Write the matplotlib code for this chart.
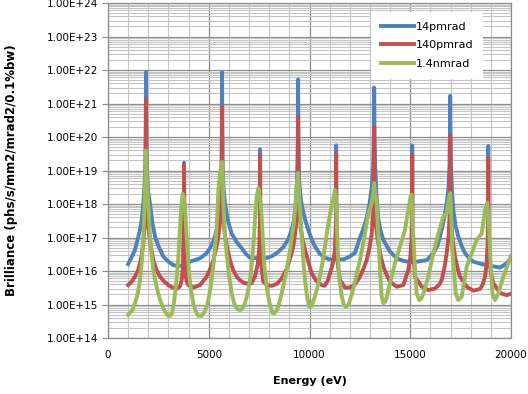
import matplotlib
matplotlib.use("Agg")
import matplotlib.pyplot as plt
from matplotlib.ticker import FixedLocator, LogLocator, FuncFormatter, NullFormatter

# Values (energy in eV, brilliance)
e_14p = [1000, 1100, 1200, 1340, 1450, 1588, 1680, 1752, 1810, 1850, 1872, 1887, 1902, 1925, 1990, 2084,
         2200, 2333, 2500, 2745, 3000, 3242, 3500, 3740, 3764, 3774, 3784, 3810, 4070, 4566, 4850, 5062,
         5250, 5395, 5480, 5545, 5600, 5635, 5648, 5661, 5675, 5690, 5730, 5806, 5950, 6139, 6400, 6635,
         6850, 7047, 7295, 7535, 7543, 7548, 7553, 7565, 7800, 8100, 8400, 8700, 8950, 9130, 9250, 9330,
         9390, 9420, 9435, 9450, 9480, 9540, 9620, 9777, 9950, 10100, 10273, 10500, 10769, 11017, 11300,
         11315, 11322, 11329, 11345, 11678, 11950, 12258, 12506, 12700, 12840, 12980, 13090, 13160, 13192,
         13209, 13226, 13260, 13330, 13416, 13530, 13664, 13995, 14327, 14655, 14900, 15085, 15091, 15096,
         15101, 15110, 15318, 15815, 16145, 16350, 16476, 16620, 16725, 16830, 16900, 16945, 16968, 16983,
         16998, 17025, 17080, 17137, 17250, 17385, 17550, 17717, 17900, 18130, 18546, 18860, 18865, 18870,
         18875, 18885, 19206, 19454, 19786, 20000]
b_14p = [1.6e16, 2.1e16, 2.8e16, 4.3e16, 7.9e16, 1.7e17, 3.5e17, 1.0e18, 3.2e18, 1.3e19, 1.6e20, 8.7e21,
         1.6e20, 1.3e19, 2.5e18, 1.0e18, 2.8e17, 1.07e17, 5.6e16, 2.7e16, 1.9e16, 1.5e16, 1.4e16, 1.5e16,
         2.0e17, 1.7e19, 2.0e17, 1.6e16, 1.9e16, 2.4e16, 3.2e16, 4.8e16, 8.3e16, 1.7e17, 3.5e17, 1.0e18,
         3.2e18, 1.3e19, 1.6e20, 8.7e21, 1.6e20, 1.3e19, 3.2e18, 1.0e18, 3.2e17, 1.3e17, 7.1e16, 4.8e16,
         3.2e16, 2.5e16, 2.4e16, 2.5e16, 4.0e17, 4.3e19, 4.0e17, 2.5e16, 2.4e16, 2.7e16, 3.5e16, 5.2e16,
         8.9e16, 1.8e17, 4.0e17, 1.3e18, 6.3e18, 7.9e19, 5.2e21, 7.9e19, 6.3e18, 2.0e18, 8.9e17, 3.5e17,
         1.6e17, 8.9e16, 5.4e16, 3.3e16, 2.5e16, 2.2e16, 2.3e16, 4.0e17, 5.6e19, 4.0e17, 2.3e16, 2.2e16,
         2.6e16, 3.5e16, 1.0e17, 2.0e17, 4.0e17, 1.0e18, 3.2e18, 1.3e19, 1.0e20, 3.0e21, 1.0e20, 1.3e19,
         1.6e18, 3.5e17, 1.6e17, 8.5e16, 3.8e16, 2.4e16, 2.0e16, 1.9e16, 1.9e16, 4.0e17, 5.6e19, 4.0e17,
         1.9e16, 1.9e16, 2.1e16, 3.4e16, 5.6e16, 1.07e17, 2.5e17, 5.2e17, 1.3e18, 3.2e18, 1.3e19, 1.0e20,
         1.7e21, 1.0e20, 1.0e19, 2.0e18, 6.6e17, 2.2e17, 1.07e17, 5.6e16, 3.4e16, 2.5e16, 1.9e16, 1.6e16,
         1.5e16, 4.0e17, 5.4e19, 4.0e17, 1.45e16, 1.35e16, 1.26e16, 1.7e16, 2.4e16]

e_140p = [1000, 1200, 1340, 1480, 1588, 1680, 1752, 1810, 1850, 1872, 1887, 1902, 1930, 1980, 2051, 2150,
          2249, 2400, 2581, 2800, 2993, 3200, 3400, 3580, 3657, 3720, 3755, 3774, 3795, 3830, 3900, 3985,
          4234, 4566, 4897, 5100, 5228, 5360, 5477, 5560, 5620, 5648, 5661, 5675, 5705, 5750, 5806, 5930,
          6055, 6200, 6386, 6600, 6799, 7000, 7130, 7300, 7430, 7510, 7540, 7548, 7560, 7590, 7708, 7900,
          8120, 8400, 8620, 8850, 9000, 9115, 9230, 9320, 9380, 9415, 9435, 9455, 9490, 9560, 9650, 9777,
          9950, 10107, 10350, 10603, 10750, 10900, 11017, 11150, 11260, 11310, 11322, 11340, 11400, 11514,
          11762, 12000, 12258, 12506, 12700, 12837, 12980, 13090, 13160, 13190, 13209, 13228, 13270, 13340,
          13416, 13530, 13664, 13830, 13995, 14327, 14655, 14903, 15000, 15060, 15085, 15096, 15110, 15150,
          15236, 15567, 15896, 16228, 16450, 16560, 16700, 16809, 16900, 16950, 16970, 16983, 16996, 17030,
          17110, 17221, 17340, 17469, 17801, 18130, 18462, 18600, 18710, 18790, 18840, 18862, 18870, 18880,
          18920, 19000, 19122, 19454, 19786, 20000]
b_140p = [3.8e15, 5.0e15, 6.8e15, 1.0e16, 1.7e16, 3.2e16, 6.8e16, 2.0e17, 7.9e17, 1.0e19, 1.35e21, 1.0e19,
          7.9e17, 2.8e17, 1.07e17, 4.5e16, 2.1e16, 1.1e16, 6.8e15, 4.8e15, 3.8e15, 3.2e15, 2.9e15, 3.5e15,
          5.4e15, 1.26e16, 1.0e17, 1.5e19, 7.9e16, 1.0e16, 5.0e15, 3.8e15, 3.2e15, 3.8e15, 6.8e15, 1.26e16,
          2.1e16, 4.5e16, 1.07e17, 2.8e17, 1.0e18, 1.0e19, 7.8e20, 1.0e19, 1.0e18, 2.8e17, 1.07e17, 4.5e16,
          2.1e16, 1.1e16, 6.8e15, 5.0e15, 4.3e15, 4.2e15, 4.3e15, 7.1e15, 1.6e16, 5.0e16, 3.2e17, 2.8e19,
          1.6e17, 2.0e16, 4.8e15, 3.8e15, 3.6e15, 4.2e15, 6.0e15, 1.1e16, 2.0e16, 3.4e16, 7.1e16, 2.0e17,
          7.9e17, 5.0e18, 4.0e20, 5.0e18, 7.9e17, 2.0e17, 8.9e16, 4.3e16, 1.8e16, 8.5e15, 5.0e15, 3.8e15,
          3.6e15, 5.0e15, 8.5e15, 1.6e16, 4.0e16, 2.5e17, 3.2e19, 1.0e17, 1.6e16, 5.4e15, 3.2e15, 3.2e15,
          4.0e15, 6.8e15, 1.26e16, 2.1e16, 5.0e16, 1.3e17, 5.0e17, 3.2e18, 2.1e20, 3.2e18, 4.0e17, 1.4e17,
          6.8e16, 2.8e16, 1.35e16, 7.6e15, 4.8e15, 3.4e15, 3.8e15, 1.07e16, 2.5e16, 7.9e16, 4.0e17, 3.0e19,
          2.0e17, 3.2e16, 6.8e15, 3.4e15, 2.7e15, 3.0e15, 4.0e15, 5.4e15, 1.26e16, 3.4e16, 1.0e17, 4.0e17,
          2.0e18, 1.1e20, 2.0e18, 3.2e17, 7.9e16, 2.7e16, 1.26e16, 6.8e15, 3.4e15, 2.6e15, 2.9e15, 4.0e15,
          6.8e15, 1.6e16, 6.3e16, 6.3e17, 2.3e19, 3.2e17, 2.5e16, 8.9e15, 4.3e15, 2.2e15, 1.9e15, 2.1e15]

e_1n4 = [1000, 1200, 1340, 1480, 1588, 1680, 1752, 1800, 1836, 1865, 1887, 1905, 1950, 2000, 2084, 2160,
         2249, 2370, 2497, 2620, 2745, 2870, 2993, 3100, 3180, 3260, 3325, 3420, 3491, 3550, 3607, 3660,
         3707, 3760, 3821, 3860, 3904, 3970, 4037, 4130, 4234, 4350, 4483, 4649, 4770, 4897, 5030, 5146,
         5260, 5360, 5420, 5477, 5560, 5620, 5661, 5690, 5723, 5806, 5890, 5971, 6139, 6260, 6386, 6500,
         6601, 6700, 6799, 6930, 7047, 7150, 7246, 7310, 7378, 7470, 7560, 7628, 7680, 7740, 7820, 7920,
         8050, 8160, 8260, 8400, 8536, 8700, 8868, 9040, 9197, 9300, 9380, 9435, 9495, 9560, 9640, 9720,
         9800, 9890, 9992, 10100, 10250, 10437, 10670, 10854, 10990, 11102, 11200, 11266, 11310, 11350,
         11400, 11470, 11600, 11700, 11811, 11950, 12100, 12300, 12506, 12754, 12918, 13087, 13160, 13210,
         13260, 13335, 13380, 13416, 13499, 13582, 13664, 13750, 13829, 13995, 14243, 14491, 14739, 14903,
         15020, 15070, 15110, 15153, 15236, 15318, 15450, 15550, 15650, 15896, 16145, 16392, 16640, 16808,
         16940, 16990, 17040, 17090, 17171, 17255, 17385, 17553, 17801, 18050, 18295, 18546, 18710, 18825,
         18880, 18930, 19007, 19080, 19206, 19371, 19620, 19868, 20000]
b_1n4 = [4.9e14, 6.6e14, 1.1e15, 2.2e15, 5.4e15, 2.0e16, 1.07e17, 5.0e17, 3.3e18, 1.3e19, 4.0e19, 1.3e19,
         2.8e18, 1.05e18, 1.07e17, 3.2e16, 1.07e16, 4.5e15, 2.1e15, 1.2e15, 7.8e14, 5.6e14, 4.6e14, 4.6e14,
         5.6e14, 1.0e15, 2.0e15, 7.1e15, 2.5e16, 1.1e17, 4.0e17, 1.1e18, 2.0e18, 1.6e18, 7.1e17, 2.8e17,
         1.07e17, 2.5e16, 6.8e15, 2.5e15, 1.1e15, 6.3e14, 4.6e14, 4.6e14, 5.8e14, 8.5e14, 2.0e15, 5.4e15,
         2.2e16, 1.07e17, 4.0e17, 2.6e18, 7.9e18, 1.3e19, 1.8e19, 7.9e18, 1.05e18, 1.07e17, 3.2e16, 1.07e16,
         2.1e15, 1.1e15, 7.8e14, 6.9e14, 6.9e14, 8.3e14, 1.1e15, 2.2e15, 5.4e15, 2.0e16, 1.07e17, 5.0e17,
         1.7e18, 3.0e18, 1.26e18, 4.0e17, 1.0e17, 2.0e16, 6.3e15, 2.2e15, 8.9e14, 5.6e14, 5.5e14, 7.1e14,
         1.35e15, 3.5e15, 1.07e16, 4.5e16, 2.1e17, 7.9e17, 4.0e18, 8.5e18, 1.6e18, 3.2e17, 6.3e16, 1.26e16,
         4.0e15, 1.6e15, 8.5e14, 8.9e14, 1.6e15, 4.0e15, 2.1e16, 1.26e17, 4.0e17, 8.9e17, 1.6e18, 2.6e18,
         1.6e18, 3.2e17, 4.0e16, 6.3e15, 1.8e15, 1.0e15, 8.3e14, 1.05e15, 2.0e15, 6.3e15, 2.1e16, 1.3e17,
         5.2e17, 1.05e18, 2.0e18, 4.2e18, 2.0e18, 1.05e18, 3.2e17, 1.07e17, 1.07e16, 1.7e15, 1.1e15, 1.2e15,
         1.6e15, 4.3e15, 1.7e16, 5.4e16, 1.7e17, 6.6e17, 1.7e18, 1.9e18, 3.2e17, 1.07e17, 1.07e16, 2.1e15,
         1.35e15, 1.5e15, 2.1e15, 6.8e15, 3.4e16, 1.3e17, 4.2e17, 5.2e17, 1.7e18, 2.1e18, 3.2e17, 4.0e16,
         1.07e16, 2.1e15, 1.35e15, 1.7e15, 1.35e16, 3.4e16, 8.5e16, 1.3e17, 6.6e17, 1.1e18, 3.2e17, 1.0e17,
         1.07e16, 2.1e15, 1.35e15, 2.1e15, 6.8e15, 1.7e16, 2.8e16]

labels = ["14pmrad", "140pmrad", "1.4nmrad"]
colors = ["#4F81BD", "#C0504D", "#9BBB59"]
x_ticks = [0, 5000, 10000, 15000, 20000]

fig = plt.figure(figsize=(5.28, 3.94), dpi=100)
ax = fig.add_axes([108 / 528, 1 - 338 / 394, 403 / 528, 335 / 394])

for e, b, lab, c in zip([e_14p, e_140p, e_1n4], [b_14p, b_140p, b_1n4], labels, colors):
    ax.plot(e, b, color=c, lw=2.8, label=lab, solid_joinstyle="round")

ax.set_yscale("log")
ax.set_xlim(0, 20000)
ax.set_ylim(1e14, 1e24)

ax.xaxis.set_major_locator(FixedLocator(x_ticks))
ax.xaxis.set_minor_locator(FixedLocator(range(0, 20001, 1000)))
ax.yaxis.set_major_locator(LogLocator(base=10, numticks=20))
ax.yaxis.set_minor_locator(LogLocator(base=10, subs=range(2, 10), numticks=20))
ax.yaxis.set_major_formatter(FuncFormatter(lambda v, p: f"{v:.2E}"))
ax.yaxis.set_minor_formatter(NullFormatter())

ax.grid(True, which="major", color="#8c8c8c", lw=0.9)
ax.grid(True, which="minor", color="#c4c4c4", lw=0.8)
ax.set_axisbelow(True)

ax.tick_params(axis="x", which="both", length=0, pad=9, labelsize=7.5)
ax.tick_params(axis="y", which="major", length=4, color="#8c8c8c", pad=3, labelsize=7.5)
ax.tick_params(axis="y", which="minor", length=0)
for s in ax.spines.values():
    s.set_color("#8c8c8c")
    s.set_linewidth(0.9)

ax.set_xlabel("Energy (eV)", fontsize=8, fontweight="bold", labelpad=11)
fig.text(12 / 528, 1 - 170 / 394, "Brilliance (phs/s/mm2/mrad2/0.1%bw)", rotation=90,
         fontsize=8.5, fontweight="bold", ha="center", va="center")

leg = ax.legend(loc="upper left", bbox_to_anchor=(0.638, 0.99), fontsize=8, frameon=True,
                fancybox=False, edgecolor="none", facecolor="white", framealpha=1,
                handlelength=3.0, handletextpad=0.15, labelspacing=0.75, borderpad=0.9)
for h in leg.get_lines():
    h.set_linewidth(2.8)

fig.savefig("out.png", dpi=100)
